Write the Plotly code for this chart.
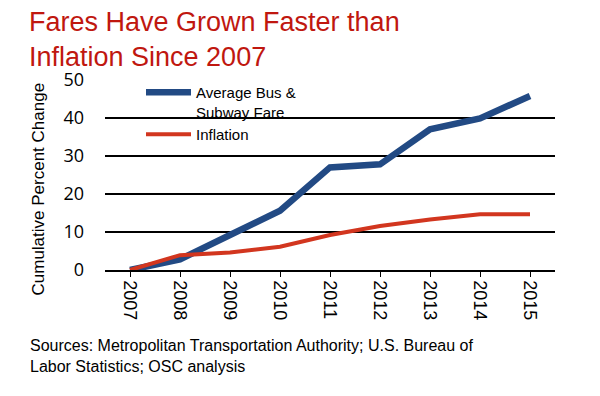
import plotly.graph_objects as go

years = ["2007", "2008", "2009", "2010", "2011", "2012", "2013", "2014", "2015"]
fare_change = [0, 2.8, 9.2, 15.6, 27.0, 27.8, 37.0, 39.9, 45.8]
inflation_change = [0, 3.9, 4.6, 6.1, 9.2, 11.6, 13.3, 14.7, 14.7]
y_ticks = [0, 10, 20, 30, 40, 50]

# page has an 8px body margin; target positions are given in page pixels
OFF = 8
W, H = 600 - OFF, 396 - OFF
PL, PR, PT, PB = 105, 555, 80, 270  # plot area in page pixels
L, R, T, B = PL - OFF, W - (PR - OFF), PT - OFF, H - (PB - OFF)
pw, ph = PR - PL, PB - PT

def px_x(x):
    return (x - PL) / pw

def px_y(y):
    return (PB - y) / ph

fig = go.Figure()
fig.add_trace(go.Scatter(
    x=years, y=fare_change, mode="lines", name="Average Bus &<br>Subway Fare",
    line=dict(color="#224a84", width=6.5)))
fig.add_trace(go.Scatter(
    x=years, y=inflation_change, mode="lines", name="Inflation",
    line=dict(color="#d2361f", width=4)))

fig.update_layout(
    width=W, height=H,
    margin=dict(l=L, r=R, t=T, b=B, pad=0),
    paper_bgcolor="white", plot_bgcolor="white",
    font=dict(family="Liberation Sans, Arial, sans-serif", color="black"),
    showlegend=True,
    legend=dict(
        x=px_x(141), y=px_y(76), xanchor="left", yanchor="top",
        bgcolor="rgba(0,0,0,0)", font=dict(size=15, color="black"),
        valign="top", tracegroupgap=0, itemwidth=45,
    ),
    xaxis=dict(
        type="category", range=[-0.5, 8.5],
        showline=True, linecolor="black", linewidth=1.5,
        ticks="outside", ticklen=5, tickcolor="black", tickwidth=1.2,
        tickangle=90, tickfont=dict(size=18, family="Liberation Sans, Arial"),
        showgrid=False, zeroline=False, fixedrange=True,
    ),
    yaxis=dict(
        range=[0, 50], tickvals=y_ticks, showline=False,
        showgrid=True, gridcolor="black", gridwidth=1.5,
        zeroline=False, ticks="", ticklabelstandoff=20,
        tickfont=dict(size=18, family="Open Sans, Liberation Sans"),
        fixedrange=True,
    ),
    annotations=[
        dict(text="Fares Have Grown Faster than<br>Inflation Since 2007",
             xref="paper", yref="paper", x=px_x(28), y=px_y(6),
             xanchor="left", yanchor="top", align="left", showarrow=False,
             borderpad=0,
             font=dict(size=27, color="#c0170f", family="Liberation Sans, Arial")),
        dict(text="Cumulative Percent Change", textangle=-90,
             xref="paper", yref="paper", x=px_x(38), y=px_y(189.5),
             xanchor="center", yanchor="middle", showarrow=False,
             borderpad=0,
             font=dict(size=17, color="black", family="Liberation Sans, Arial")),
        dict(text="Sources: Metropolitan Transportation Authority; U.S. Bureau of<br>Labor Statistics; OSC analysis",
             xref="paper", yref="paper", x=px_x(28), y=px_y(335),
             xanchor="left", yanchor="top", align="left", showarrow=False,
             font=dict(size=16, color="black", family="Liberation Sans, Arial")),
    ],
)

fig.write_html("out.html")
